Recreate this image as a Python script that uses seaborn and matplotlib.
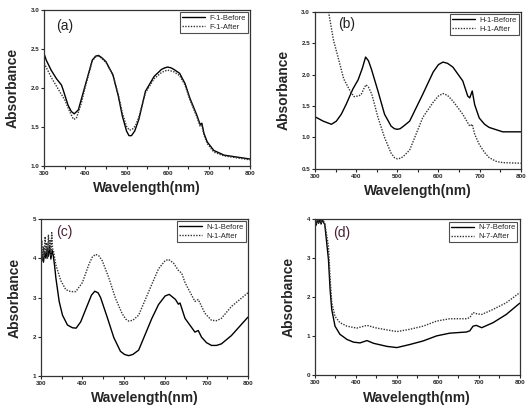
import numpy as np
import matplotlib
matplotlib.use("Agg")
import matplotlib.pyplot as plt
import seaborn as sns

# ---- panel (a) F-1
wl_a_before = [300, 305, 317, 330, 342, 346, 358, 366, 373, 383, 400, 417, 425, 432, 440, 450, 467, 480,
               490, 500, 506, 512, 520, 530, 546, 567, 585, 593, 600, 608, 615, 629, 642, 654, 671, 679,
               683, 688, 696, 712, 737, 762, 800]
abs_a_before = [2.44, 2.36, 2.23, 2.12, 2.04, 1.98, 1.78, 1.7, 1.67, 1.72, 2.04, 2.36, 2.41, 2.42, 2.39,
                2.34, 2.17, 1.9, 1.64, 1.45, 1.39, 1.39, 1.45, 1.6, 1.96, 2.15, 2.24, 2.26, 2.27, 2.26,
                2.24, 2.19, 2.06, 1.87, 1.65, 1.53, 1.55, 1.42, 1.31, 1.2, 1.14, 1.12, 1.09]
wl_a_after = [300, 317, 335, 350, 362, 371, 378, 390, 400, 417, 425, 432, 440, 450, 467, 480, 490, 500,
              507, 514, 522, 530, 546, 567, 585, 593, 600, 608, 615, 629, 642, 654, 671, 679, 683, 688,
              696, 712, 737, 762, 800]
abs_a_after = [2.32, 2.14, 1.98, 1.85, 1.7, 1.6, 1.61, 1.8, 2.02, 2.35, 2.4, 2.41, 2.38, 2.33, 2.17,
               1.92, 1.68, 1.51, 1.46, 1.47, 1.52, 1.63, 1.94, 2.12, 2.2, 2.22, 2.23, 2.22, 2.21, 2.16,
               2.04, 1.85, 1.63, 1.51, 1.52, 1.4, 1.29, 1.18, 1.13, 1.11, 1.08]

# ---- panel (b) H-1
wl_b_before = [300, 320, 340, 352, 364, 376, 392, 405, 415, 423, 430, 437, 453, 469, 485, 493, 500, 507,
               515, 530, 562, 587, 600, 611, 622, 635, 659, 671, 676, 682, 688, 699, 712, 723, 756, 800]
abs_b_before = [1.33, 1.26, 1.21, 1.26, 1.37, 1.53, 1.77, 1.92, 2.1, 2.28, 2.22, 2.09, 1.74, 1.37, 1.18,
                1.14, 1.13, 1.14, 1.18, 1.26, 1.69, 2.04, 2.16, 2.2, 2.18, 2.12, 1.9, 1.66, 1.63, 1.74,
                1.52, 1.31, 1.21, 1.16, 1.09, 1.09]
wl_b_after = [333, 345, 358, 370, 387, 395, 405, 412, 419, 424, 430, 438, 453, 469, 485, 493, 500, 508,
              515, 530, 562, 587, 600, 611, 622, 635, 659, 676, 682, 688, 699, 712, 723, 740, 756, 800]
abs_b_after = [3.0, 2.55, 2.23, 1.93, 1.72, 1.65, 1.66, 1.68, 1.78, 1.84, 1.8, 1.69, 1.32, 1.0, 0.75,
               0.68, 0.66, 0.67, 0.7, 0.8, 1.32, 1.56, 1.66, 1.7, 1.67, 1.58, 1.37, 1.18, 1.21, 1.05,
               0.89, 0.76, 0.68, 0.62, 0.6, 0.59]

# ---- panel (c) N-1
wl_c_before = [300, 303, 306, 309, 312, 315, 318, 321, 324, 327, 330, 333, 336, 344, 352, 364, 376, 385,
               396, 412, 422, 430, 438, 444, 460, 476, 492, 502, 512, 522, 536, 568, 584, 600, 610, 625,
               632, 636, 648, 672, 680, 688, 700, 712, 724, 736, 760, 800]
abs_c_before = [3.95, 4.05, 3.9, 4.15, 4.0, 4.25, 4.05, 4.3, 3.98, 4.2, 4.05, 3.8, 3.5, 2.9, 2.55, 2.3,
                2.23, 2.22, 2.38, 2.8, 3.06, 3.16, 3.12, 3.0, 2.5, 1.98, 1.63, 1.55, 1.52, 1.55, 1.66,
                2.47, 2.82, 3.04, 3.08, 2.95, 2.83, 2.86, 2.47, 2.12, 2.16, 1.99, 1.85, 1.78, 1.78, 1.82,
                2.03, 2.5]
wl_c_after = [300, 302, 304, 306, 308, 310, 312, 314, 316, 318, 320, 322, 324, 326, 328, 330, 336, 348,
              360, 372, 384, 400, 416, 424, 432, 440, 448, 464, 480, 496, 505, 512, 522, 536, 568, 584,
              600, 608, 620, 632, 640, 648, 672, 680, 696, 712, 724, 736, 760, 800]
abs_c_after = [4.1, 4.45, 3.95, 4.3, 4.05, 4.55, 4.15, 4.4, 4.0, 4.6, 4.2, 4.45, 4.05, 4.65, 4.25, 4.2,
               3.83, 3.43, 3.2, 3.15, 3.15, 3.38, 3.85, 4.03, 4.1, 4.06, 3.94, 3.5, 2.98, 2.59, 2.45,
               2.4, 2.42, 2.55, 3.34, 3.73, 3.94, 3.97, 3.88, 3.69, 3.62, 3.38, 2.9, 2.95, 2.6, 2.42,
               2.41, 2.47, 2.77, 3.12]

# ---- panel (d) N-7
wl_d_before = [300, 303, 306, 309, 312, 315, 318, 321, 324, 333, 337, 341, 349, 361, 369, 378, 394, 410,
               427, 443, 476, 500, 532, 564, 597, 629, 670, 678, 686, 694, 707, 735, 767, 800]
abs_d_before = [3.95, 3.85, 4.0, 3.9, 4.0, 3.88, 4.0, 3.92, 3.87, 2.97, 2.2, 1.69, 1.26, 1.05, 0.99,
                0.92, 0.85, 0.83, 0.89, 0.82, 0.74, 0.71, 0.79, 0.88, 1.01, 1.08, 1.11, 1.14, 1.26, 1.28,
                1.22, 1.35, 1.56, 1.85]
wl_d_after = [300, 303, 306, 309, 312, 315, 318, 321, 324, 333, 337, 341, 349, 361, 378, 402, 427, 451,
              500, 532, 564, 597, 629, 670, 678, 686, 694, 707, 735, 767, 800]
abs_d_after = [4.0, 3.9, 4.0, 3.92, 4.0, 3.9, 4.0, 3.95, 3.9, 3.3, 2.5, 1.86, 1.51, 1.35, 1.26, 1.21,
               1.28, 1.21, 1.12, 1.18, 1.26, 1.39, 1.45, 1.45, 1.48, 1.61, 1.58, 1.56, 1.69, 1.86, 2.12]

panels = [
    dict(pos=[0.083, 0.592, 0.387, 0.383], letter="(a)", lxy=(0.06, 0.9), name="F-1",
         before=(wl_a_before, abs_a_before), after=(wl_a_after, abs_a_after),
         ylim=(1.0, 3.0), yticks=[1.0, 1.5, 2.0, 2.5, 3.0], yfmt="{:.1f}", lcolor="#222222"),
    dict(pos=[0.592, 0.585, 0.387, 0.386], letter="(b)", lxy=(0.115, 0.92), name="H-1",
         before=(wl_b_before, abs_b_before), after=(wl_b_after, abs_b_after),
         ylim=(0.5, 3.0), yticks=[0.5, 1.0, 1.5, 2.0, 2.5, 3.0], yfmt="{:.1f}", lcolor="#222222"),
    dict(pos=[0.077, 0.076, 0.389, 0.386], letter="(c)", lxy=(0.075, 0.92), name="N-1",
         before=(wl_c_before, abs_c_before), after=(wl_c_after, abs_c_after),
         ylim=(1, 5), yticks=[1, 2, 3, 4, 5], yfmt="{:d}", lcolor="#4a2035"),
    dict(pos=[0.592, 0.078, 0.385, 0.383], letter="(d)", lxy=(0.09, 0.91), name="N-7",
         before=(wl_d_before, abs_d_before), after=(wl_d_after, abs_d_after),
         ylim=(0, 4), yticks=[0, 1, 2, 3, 4], yfmt="{:d}", lcolor="#4a2035"),
]

sns.set_style("ticks")
plt.rcParams['font.family'] = ['Liberation Sans', 'DejaVu Sans']

fig = plt.figure(figsize=(5.32, 4.07), dpi=100)

for p in panels:
    ax = fig.add_axes(p["pos"])
    sns.lineplot(x=p["before"][0], y=p["before"][1], ax=ax, color="black", lw=1.0,
                 label=p["name"] + "-Before", sort=False)
    sns.lineplot(x=p["after"][0], y=p["after"][1], ax=ax, color="#333333", lw=1.0,
                 linestyle=(0, (1, 1)), label=p["name"] + "-After", sort=False)
    ax.set_xlim(300, 800)
    ax.set_ylim(*p["ylim"])
    ax.set_xticks([300, 400, 500, 600, 700, 800])
    ax.set_xticks(np.arange(350, 800, 100), minor=True)
    ax.set_yticks(p["yticks"])
    ax.set_yticklabels([p["yfmt"].format(v) for v in p["yticks"]])
    ax.tick_params(axis="both", which="both", direction="out", length=2, width=0.8,
                   labelsize=4.5, pad=1.5)
    for lab in ax.get_xticklabels() + ax.get_yticklabels():
        lab.set_fontweight("bold")
    for s in ax.spines.values():
        s.set_visible(True)
        s.set_linewidth(0.9)
        s.set_color("#333333")
    ax.set_xlabel("Wavelength(nm)", fontsize=10, fontweight="bold", labelpad=4)
    ax.set_ylabel("Absorbance", fontsize=10, fontweight="bold", labelpad=8)
    ax.text(p["lxy"][0], p["lxy"][1], p["letter"], transform=ax.transAxes, fontsize=10,
            color=p["lcolor"], ha="left", va="center")
    leg = ax.legend(loc="upper right", fontsize=5.5, frameon=True, fancybox=False,
                    borderaxespad=0.3, handlelength=3, borderpad=0.3, labelspacing=0.2,
                    handletextpad=0.5)
    leg.get_frame().set_edgecolor("#222222")
    leg.get_frame().set_linewidth(0.8)

fig.savefig("out.png", dpi=100)
